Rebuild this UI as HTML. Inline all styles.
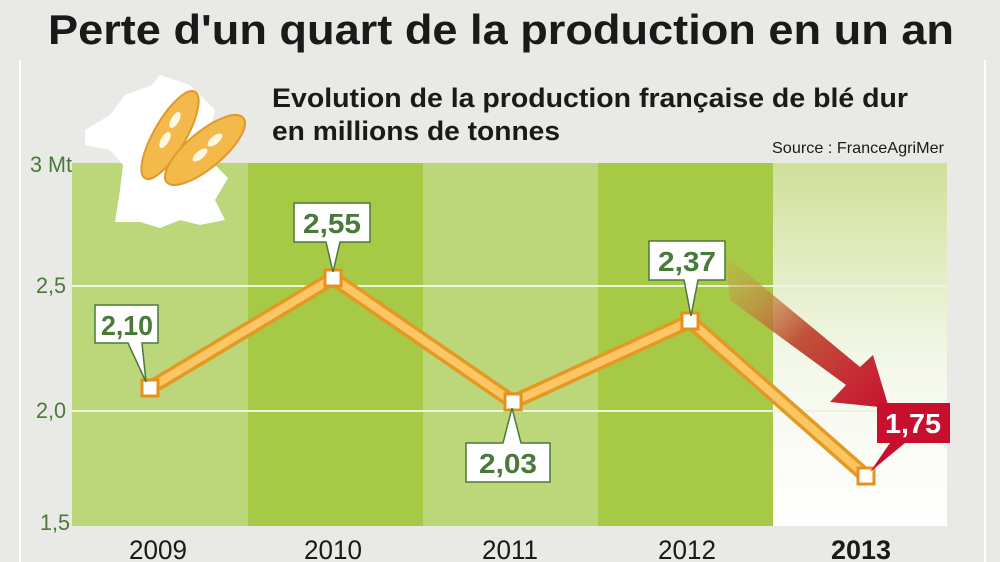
<!DOCTYPE html>
<html><head><meta charset="utf-8"><style>
html,body{margin:0;padding:0;background:#e9e9e6;}
svg{display:block}
text{font-family:"Liberation Sans Narrow","Liberation Sans",sans-serif;}
</style></head><body>
<svg width="1000" height="562" viewBox="0 0 1000 562" xmlns="http://www.w3.org/2000/svg">
<defs>
<linearGradient id="w" x1="0" y1="0" x2="0" y2="1">
<stop offset="0" stop-color="#cfe09a"/><stop offset="0.55" stop-color="#f4f8ea"/><stop offset="1" stop-color="#ffffff"/></linearGradient>
<linearGradient id="ar" x1="0" y1="0" x2="1" y2="1">
<stop offset="0" stop-color="#c9b24a" stop-opacity="0.3"/><stop offset="0.5" stop-color="#c0533a"/><stop offset="1" stop-color="#c8102e"/></linearGradient>
</defs>
<rect width="1000" height="562" fill="#e9e9e6"/>
<line x1="20" y1="60" x2="20" y2="562" stroke="#fff" stroke-width="2"/>
<line x1="985" y1="60" x2="985" y2="562" stroke="#fff" stroke-width="2"/>
<text x="48" y="44" font-size="42" font-weight="bold" fill="#1a1a1a" textLength="906" lengthAdjust="spacingAndGlyphs">Perte d'un quart de la production en un an</text>
<rect x="72" y="163" width="176" height="363" fill="#bcd67a"/>
<rect x="248" y="163" width="175" height="363" fill="#a6c946"/>
<rect x="423" y="163" width="175" height="363" fill="#bcd67a"/>
<rect x="598" y="163" width="175" height="363" fill="#a6c946"/>
<rect x="773" y="163" width="174" height="363" fill="url(#w)"/>
<line x1="72" y1="286" x2="947" y2="286" stroke="#eef4dc" stroke-width="2"/>
<line x1="72" y1="411" x2="947" y2="411" stroke="#eef4dc" stroke-width="2"/>
<g font-size="22" fill="#4a7a3a">
<text x="30" y="172" textLength="42" lengthAdjust="spacingAndGlyphs">3 Mt</text>
<text x="36" y="293" textLength="30" lengthAdjust="spacingAndGlyphs">2,5</text>
<text x="36" y="418" textLength="30" lengthAdjust="spacingAndGlyphs">2,0</text>
<text x="40" y="530" textLength="30" lengthAdjust="spacingAndGlyphs">1,5</text>
</g>
<!-- France shape and wheat -->
<path d="M85,130 L110,115 L125,95 L152,85 L160,75 L190,85 L205,100 L215,110 L210,130 L222,145 L215,165 L228,178 L215,200 L225,220 L200,225 L180,220 L160,228 L140,222 L115,222 L120,190 L123,165 L110,150 L85,145 Z" fill="#fff"/>
<g fill="#f3b94a" stroke="#e09a2a" stroke-width="2">
<ellipse cx="170" cy="135" rx="16" ry="50" transform="rotate(30 170 135)"/>
<ellipse cx="205" cy="150" rx="18" ry="50" transform="rotate(50 205 150)"/>
</g>
<g fill="#fff8e0">
<ellipse cx="165" cy="140" rx="4" ry="9" transform="rotate(30 165 140)"/>
<ellipse cx="175" cy="120" rx="4" ry="9" transform="rotate(30 175 120)"/>
<ellipse cx="200" cy="155" rx="4" ry="9" transform="rotate(50 200 155)"/>
<ellipse cx="215" cy="140" rx="4" ry="9" transform="rotate(50 215 140)"/>
</g>
<text x="272" y="107" font-size="27" font-weight="bold" fill="#1a1a1a" textLength="636" lengthAdjust="spacingAndGlyphs">Evolution de la production française de blé dur</text>
<text x="272" y="140" font-size="27" font-weight="bold" fill="#1a1a1a" textLength="288" lengthAdjust="spacingAndGlyphs">en millions de tonnes</text>
<text x="772" y="153" font-size="16" fill="#1a1a1a" textLength="172" lengthAdjust="spacingAndGlyphs">Source : FranceAgriMer</text>
<!-- arrow -->
<path d="M725,255 L730,300 L846,385 L830,402 L889,408 L873,355 L860,367 Z" fill="url(#ar)"/>
<!-- line -->
<polyline points="150,388 333,278 513,402 690,321 866,476" fill="none" stroke="#e39a22" stroke-width="15" stroke-linejoin="round"/>
<polyline points="150,388 333,278 513,402 690,321 866,476" fill="none" stroke="#fcc664" stroke-width="8" stroke-linejoin="round"/>
<g fill="#fff" stroke="#e8901e" stroke-width="3">
<rect x="142" y="380" width="16" height="16"/>
<rect x="325" y="270" width="16" height="16"/>
<rect x="505" y="394" width="16" height="16"/>
<rect x="682" y="313" width="16" height="16"/>
<rect x="858" y="468" width="16" height="16"/>
</g>
<!-- labels -->
<g fill="#fff" stroke="#4a7a3a" stroke-width="1.5">
<path d="M95,305 H158 V343 H142 L146,382 L128,343 H95 Z"/>
<path d="M294,203 H370 V242 H340 L333,272 L326,242 H294 Z"/>
<path d="M466,443 H503 L512,408 L521,443 H550 V482 H466 Z"/>
<path d="M649,241 H725 V280 H698 L691,316 L684,280 H649 Z"/>
</g>
<path d="M877,403 H950 V443 H905 L870,472 L890,443 H877 Z" fill="#c8102e"/>
<g font-size="28" font-weight="bold" text-anchor="middle">
<text x="127" y="335" fill="#4a7a3a" textLength="52" lengthAdjust="spacingAndGlyphs">2,10</text>
<text x="332" y="233" fill="#4a7a3a" textLength="58" lengthAdjust="spacingAndGlyphs">2,55</text>
<text x="508" y="473" fill="#4a7a3a" textLength="58" lengthAdjust="spacingAndGlyphs">2,03</text>
<text x="687" y="271" fill="#4a7a3a" textLength="58" lengthAdjust="spacingAndGlyphs">2,37</text>
<text x="913" y="433" fill="#fff" textLength="56" lengthAdjust="spacingAndGlyphs">1,75</text>
</g>
<g font-size="27" text-anchor="middle" fill="#1a1a1a">
<text x="158" y="559" textLength="58" lengthAdjust="spacingAndGlyphs">2009</text>
<text x="333" y="559" textLength="58" lengthAdjust="spacingAndGlyphs">2010</text>
<text x="510" y="559" textLength="56" lengthAdjust="spacingAndGlyphs">2011</text>
<text x="687" y="559" textLength="58" lengthAdjust="spacingAndGlyphs">2012</text>
<text x="861" y="559" font-weight="bold" textLength="60" lengthAdjust="spacingAndGlyphs">2013</text>
</g>
</svg>
</body></html>
